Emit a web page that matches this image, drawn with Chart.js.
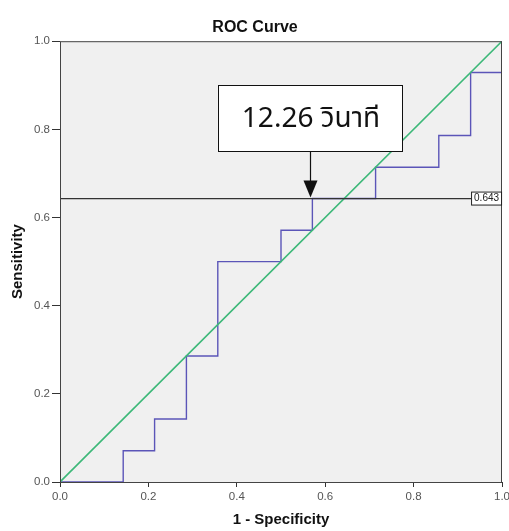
<!DOCTYPE html>
<html>
<head>
<meta charset="utf-8">
<script src="https://cdn.jsdelivr.net/npm/chart.js@4/dist/chart.umd.min.js"></script>
<style>
  html, body { margin: 0; padding: 0; background: #ffffff; }
  #wrap { width: 509px; height: 531px; }
</style>
</head>
<body>
<div id="wrap"><canvas id="roc"></canvas></div>
<script>
// ROC curve data (1 - specificity, sensitivity)
var fpr = [0, 0.143, 0.143, 0.214, 0.214, 0.286, 0.286, 0.357, 0.357, 0.5, 0.5,
           0.571, 0.571, 0.714, 0.714, 0.857, 0.857, 0.929, 0.929, 1, 1];
var tpr = [0, 0, 0.071, 0.071, 0.143, 0.143, 0.286, 0.286, 0.5, 0.5, 0.571,
           0.571, 0.643, 0.643, 0.714, 0.714, 0.786, 0.786, 0.929, 0.929, 1];
var refX = [0, 1];
var refY = [0, 1];
var cutoff = 0.643;
var tickValues = [0, 0.2, 0.4, 0.6, 0.8, 1.0];
var noteText = '12.26 วินาที';
var noteAt = 0.565;

function toPoints(xs, ys) {
    return xs.map(function (x, i) { return {x: x, y: ys[i]}; });
}

var fontFamily = 'Arial, "Liberation Sans", sans-serif';

// plot background + frame
var frame = {
    id: 'frame',
    beforeDatasetsDraw: function (chart) {
        var a = chart.chartArea, ctx = chart.ctx;
        ctx.save();
        ctx.fillStyle = '#f0f0f0';
        ctx.fillRect(a.left, a.top, a.right - a.left, a.bottom - a.top);
        ctx.restore();
    },
    afterDatasetsDraw: function (chart) {
        var a = chart.chartArea, ctx = chart.ctx;
        ctx.save();
        ctx.strokeStyle = '#444';
        ctx.lineWidth = 1;
        ctx.strokeRect(a.left + 0.5, a.top + 0.5, a.right - a.left - 1, a.bottom - a.top);
        ctx.restore();
    }
};

// cutoff label and arrow annotation
var notes = {
    id: 'notes',
    afterDatasetsDraw: function (chart) {
        var xs = chart.scales.x, ys = chart.scales.y, ctx = chart.ctx;
        ctx.save();
        // 0.643 label
        var lx = xs.getPixelForValue(0.93), ly = ys.getPixelForValue(cutoff);
        ctx.fillStyle = '#fff';
        ctx.strokeStyle = '#222';
        ctx.lineWidth = 1;
        ctx.fillRect(lx, ly - 7, 30, 13);
        ctx.strokeRect(lx + 0.5, ly - 6.5, 30, 13);
        ctx.fillStyle = '#222';
        ctx.font = '10px ' + fontFamily;
        ctx.textAlign = 'center';
        ctx.textBaseline = 'middle';
        ctx.fillText(cutoff.toFixed(3), lx + 15.5, ly);

        // text box
        var bx1 = xs.getPixelForValue(0.357), bx2 = xs.getPixelForValue(0.774);
        var by1 = ys.getPixelForValue(0.9), by2 = ys.getPixelForValue(0.75);
        ctx.fillStyle = '#fff';
        ctx.fillRect(bx1, by1, bx2 - bx1, by2 - by1);
        ctx.strokeStyle = '#111';
        ctx.strokeRect(Math.round(bx1) + 0.5, Math.round(by1) + 0.5, Math.round(bx2 - bx1), Math.round(by2 - by1));
        ctx.fillStyle = '#111';
        ctx.font = '28px "Noto Sans Thai", Tahoma, "Noto Sans", sans-serif';
        ctx.fillText(noteText, (bx1 + bx2) / 2 + 1, (by1 + by2) / 2 + 3);

        // arrow
        var ax = Math.round(xs.getPixelForValue(noteAt)) + 0.5;
        var tip = ys.getPixelForValue(cutoff) - 1;
        ctx.strokeStyle = '#111';
        ctx.lineWidth = 1.2;
        ctx.beginPath();
        ctx.moveTo(ax, by2);
        ctx.lineTo(ax, tip - 14);
        ctx.stroke();
        ctx.fillStyle = '#111';
        ctx.beginPath();
        ctx.moveTo(ax - 7, tip - 17);
        ctx.lineTo(ax + 7, tip - 17);
        ctx.lineTo(ax, tip);
        ctx.closePath();
        ctx.fill();
        ctx.restore();
    }
};

var ctx = document.getElementById('roc').getContext('2d');
new Chart(ctx, {
    type: 'scatter',
    data: {
        datasets: [
            {
                label: 'Cutoff',
                data: toPoints([0, 1], [cutoff, cutoff]),
                showLine: true,
                borderColor: '#333',
                borderWidth: 1.3,
                pointRadius: 0
            },
            {
                label: 'Reference',
                data: toPoints(refX, refY),
                showLine: true,
                borderColor: '#3cb878',
                borderWidth: 1.6,
                pointRadius: 0
            },
            {
                label: 'ROC',
                data: toPoints(fpr, tpr),
                showLine: true,
                borderColor: '#5b55b8',
                borderWidth: 1.4,
                pointRadius: 0
            }
        ]
    },
    options: {
        responsive: true,
        maintainAspectRatio: false,
        animation: false,
        layout: { padding: { left: 8, right: 7, top: 0, bottom: 0 } },
        plugins: {
            legend: { display: false },
            tooltip: { enabled: false },
            title: {
                display: true,
                text: 'ROC Curve',
                color: '#111',
                font: { family: fontFamily, size: 16, weight: 'bold' },
                padding: { top: 18, bottom: 4 }
            }
        },
        scales: {
            x: {
                type: 'linear',
                min: 0,
                max: 1,
                afterBuildTicks: function (scale) {
                    scale.ticks = tickValues.map(function (v) { return {value: v}; });
                },
                afterFit: function (scale) {
                    scale.height = 49;
                    scale.paddingLeft = 0;
                    scale.paddingRight = 0;
                },
                ticks: {
                    color: '#555',
                    font: { family: fontFamily, size: 11.5 },
                    padding: 3,
                    maxRotation: 0,
                    callback: function (v) { return Number(v).toFixed(1); }
                },
                grid: { drawOnChartArea: false, tickLength: 5, color: '#333' },
                border: { color: '#333', width: 1 },
                title: {
                    display: true,
                    text: '1 - Specificity',
                    color: '#111',
                    font: { family: fontFamily, size: 15, weight: 'bold' },
                    padding: { top: 2, bottom: 2 }
                }
            },
            y: {
                type: 'linear',
                min: 0,
                max: 1,
                afterBuildTicks: function (scale) {
                    scale.ticks = tickValues.map(function (v) { return {value: v}; });
                },
                afterFit: function (scale) {
                    scale.width = 52;
                },
                ticks: {
                    color: '#555',
                    font: { family: fontFamily, size: 11.5 },
                    padding: 2,
                    callback: function (v) { return Number(v).toFixed(1); }
                },
                grid: { drawOnChartArea: false, tickLength: 8, color: '#333' },
                border: { color: '#333', width: 1 },
                title: {
                    display: true,
                    text: 'Sensitivity',
                    color: '#111',
                    font: { family: fontFamily, size: 15, weight: 'bold' },
                    padding: { top: 1, bottom: 0 }
                }
            }
        }
    },
    plugins: [frame, notes]
});
</script>
</body>
</html>
